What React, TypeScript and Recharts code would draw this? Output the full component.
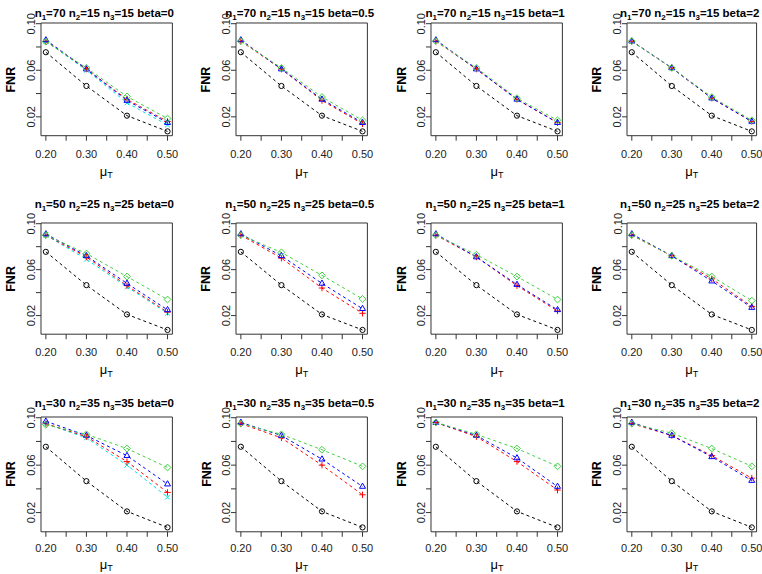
import React from 'react';
import { LineChart, Line, XAxis, YAxis, ReferenceArea } from 'recharts';

// ---------- data ----------
const muT = [0.2, 0.3, 0.4, 0.5];
const xTicks = [0.2, 0.25, 0.3, 0.35, 0.4, 0.45, 0.5];
const yTicks = [0.02, 0.04, 0.06, 0.08, 0.1];
const betaLabels = ['0', '0.5', '1', '2'];
const n1Values = [70, 50, 30];
const n2Values = [15, 25, 35];
const n3Values = [15, 25, 35];

// reference method (black circles) - same in every panel
const fnrBlack = [0.0755, 0.0465, 0.021, 0.0075];

// row 1: n1=70 n2=15 n3=15 ; one list per beta
const fnrRed70 = [[0.085, 0.061, 0.035, 0.016], [0.085, 0.061, 0.034, 0.014], [0.085, 0.061, 0.035, 0.015], [0.085, 0.062, 0.036, 0.016]];
const fnrBlue70 = [[0.086, 0.061, 0.034, 0.015], [0.086, 0.061, 0.035, 0.015], [0.086, 0.061, 0.035, 0.015], [0.085, 0.062, 0.036, 0.016]];
const fnrGreen70 = [[0.0845, 0.062, 0.0375, 0.0185], [0.085, 0.062, 0.037, 0.017], [0.085, 0.062, 0.036, 0.017], [0.085, 0.062, 0.037, 0.017]];
const fnrCyan70 = [0.085, 0.060, 0.032, 0.013];

// row 2: n1=50 n2=25 n3=25
const fnrRed50 = [[0.090, 0.071, 0.046, 0.023], [0.090, 0.070, 0.044, 0.022], [0.090, 0.071, 0.046, 0.024], [0.090, 0.072, 0.052, 0.028]];
const fnrBlue50 = [[0.091, 0.072, 0.048, 0.025], [0.091, 0.072, 0.048, 0.026], [0.091, 0.071, 0.047, 0.025], [0.091, 0.072, 0.050, 0.027]];
const fnrGreen50 = [[0.090, 0.074, 0.054, 0.034], [0.090, 0.075, 0.055, 0.0345], [0.090, 0.073, 0.054, 0.034], [0.090, 0.072, 0.054, 0.033]];
const fnrCyan50 = [0.090, 0.069, 0.045, 0.022];

// row 3: n1=30 n2=35 n3=35
const fnrRed30 = [[0.095, 0.084, 0.063, 0.037], [0.095, 0.083, 0.060, 0.035], [0.096, 0.084, 0.063, 0.039], [0.095, 0.085, 0.068, 0.049]];
const fnrBlue30 = [[0.097, 0.085, 0.068, 0.044], [0.096, 0.085, 0.065, 0.042], [0.096, 0.085, 0.066, 0.042], [0.096, 0.085, 0.067, 0.047]];
const fnrGreen30 = [[0.094, 0.086, 0.074, 0.058], [0.095, 0.086, 0.073, 0.059], [0.096, 0.086, 0.074, 0.059], [0.095, 0.087, 0.074, 0.059]];
const fnrCyan30 = [0.095, 0.083, 0.060, 0.033];

const redRows = [fnrRed70, fnrRed50, fnrRed30];
const blueRows = [fnrBlue70, fnrBlue50, fnrBlue30];
const greenRows = [fnrGreen70, fnrGreen50, fnrGreen30];
const cyanRows = [fnrCyan70, fnrCyan50, fnrCyan30];

// ---------- layout ----------
const FONT = '"Liberation Sans", Arial, Helvetica, sans-serif';
const X_DOMAIN: [number, number] = [0.188, 0.512];
const Y_DOMAIN: [number, number] = [0.0038, 0.1006];
const colBoxLeft = [40.6, 236.0, 431.4, 626.9];
const colBoxW = [131.4, 131.4, 131.4, 129.6];
const rowBoxTop = [23.3, 223.3, 416.6];
const rowBoxBottom = [136.0, 334.5, 531.4];
const rowTitleY = [12.5, 203.3, 402.7];
const rowXTickGap = [10, 9.5, 7.6];
const rowMuBaseline = [175.5, 374, 568.5];

const COLORS = {
  black: '#000000',
  red: '#ff0000',
  green: '#3fd03f',
  blue: '#0000ff',
  cyan: '#00e0e0',
};

type Kind = 'circle' | 'plus' | 'triangle' | 'cross' | 'diamond';

const makeDot = (kind: Kind, color: string) => (props: any) => {
  const { cx, cy, index } = props;
  const k = `${kind}-${index}`;
  if (cx == null || cy == null) return <g key={k} />;
  const common = { fill: 'none', stroke: color, strokeWidth: 1 };
  switch (kind) {
    case 'circle':
      return <circle key={k} cx={cx} cy={cy} r={2.6} {...common} />;
    case 'plus':
      return <path key={k} d={`M${cx - 3.2},${cy}H${cx + 3.2}M${cx},${cy - 3.2}V${cy + 3.2}`} {...common} />;
    case 'triangle':
      return <path key={k} d={`M${cx},${cy - 3.4}L${cx + 3},${cy + 1.8}L${cx - 3},${cy + 1.8}Z`} {...common} />;
    case 'cross':
      return <path key={k} d={`M${cx - 2.4},${cy - 2.4}L${cx + 2.4},${cy + 2.4}M${cx - 2.4},${cy + 2.4}L${cx + 2.4},${cy - 2.4}`} {...common} />;
    case 'diamond':
    default:
      return <path key={k} d={`M${cx},${cy - 3.4}L${cx + 3.4},${cy}L${cx},${cy + 3.4}L${cx - 3.4},${cy}Z`} {...common} />;
  }
};

const YTick = (props: any) => {
  const { x, y, payload } = props;
  const v = payload.value;
  const show = Math.abs(v - 0.02) < 1e-6 || Math.abs(v - 0.06) < 1e-6 || Math.abs(v - 0.1) < 1e-6;
  if (!show) return <g />;
  const bx = x - 0.5;
  return (
    <text x={bx} y={y} transform={`rotate(-90, ${bx}, ${y})`} textAnchor="middle" fontSize={11} fill="#222" fontFamily={FONT}>
      {v.toFixed(2)}
    </text>
  );
};

const xTickFmt = (v: number) => {
  const h = Math.round(v * 100);
  return h % 10 === 0 ? (h / 100).toFixed(2) : '';
};

function Panel({ row, col }: { row: number; col: number }) {
  const top = rowBoxTop[row];
  const boxH = rowBoxBottom[row] - top;
  const left = colBoxLeft[col];
  const boxW = colBoxW[col];
  const MT = 25;
  const YW = 41;
  const XH = 50;
  const W = YW + boxW + 20;
  const H = boxH + MT + XH;
  const withCyan = col === 0;
  const data = muT.map((x, i) => ({
    x,
    black: fnrBlack[i],
    red: redRows[row][col][i],
    blue: blueRows[row][col][i],
    green: greenRows[row][col][i],
    cyan: withCyan ? cyanRows[row][i] : null,
  }));
  return (
    <div style={{ position: 'absolute', left: left - YW, top: top - MT, width: W, height: H }}>
      <LineChart width={W} height={H} data={data} margin={{ top: MT, right: W - YW - boxW, bottom: 0, left: 0 }}>
        <XAxis
          dataKey="x"
          type="number"
          domain={X_DOMAIN}
          allowDataOverflow
          ticks={xTicks}
          interval={0}
          tickFormatter={xTickFmt}
          axisLine={false}
          tickLine={{ stroke: '#333' }}
          tickSize={5}
          tickMargin={rowXTickGap[row]}
          height={XH}
          tick={{ fontSize: 11, fill: '#222', fontFamily: FONT }}
        />
        <YAxis
          type="number"
          domain={Y_DOMAIN}
          allowDataOverflow
          ticks={yTicks}
          interval={0}
          axisLine={false}
          tickLine={{ stroke: '#333' }}
          tickSize={5}
          tickMargin={0}
          width={YW}
          tick={<YTick />}
        />
        <ReferenceArea x1={X_DOMAIN[0]} x2={X_DOMAIN[1]} y1={Y_DOMAIN[0]} y2={Y_DOMAIN[1]} fill="none" fillOpacity={0} stroke="#333" strokeWidth={1} strokeOpacity={1} ifOverflow="visible" />
        {withCyan && (
          <Line dataKey="cyan" stroke={COLORS.cyan} strokeWidth={1} strokeDasharray="3 3" dot={makeDot('cross', COLORS.cyan)} activeDot={false} isAnimationActive={false} />
        )}
        <Line dataKey="red" stroke={COLORS.red} strokeWidth={1} strokeDasharray="3 3" dot={makeDot('plus', COLORS.red)} activeDot={false} isAnimationActive={false} />
        <Line dataKey="blue" stroke={COLORS.blue} strokeWidth={1} strokeDasharray="3 3" dot={makeDot('triangle', COLORS.blue)} activeDot={false} isAnimationActive={false} />
        <Line dataKey="green" stroke={COLORS.green} strokeWidth={1} strokeDasharray="3 3" dot={makeDot('diamond', COLORS.green)} activeDot={false} isAnimationActive={false} />
        <Line dataKey="black" stroke={COLORS.black} strokeWidth={1} strokeDasharray="3 3" dot={makeDot('circle', COLORS.black)} activeDot={false} isAnimationActive={false} />
      </LineChart>
    </div>
  );
}

function Labels() {
  const items: React.ReactNode[] = [];
  for (let r = 0; r < 3; r++) {
    for (let c = 0; c < 4; c++) {
      const left = colBoxLeft[c];
      const cx = left + colBoxW[c] / 2;
      const top = rowBoxTop[r];
      const bottom = rowBoxBottom[r];
      const ty = rowTitleY[r] + 4.2;
      items.push(
        <text key={`t${r}${c}`} x={cx - 2} y={ty} textAnchor="middle" fontSize={11.5} fontWeight="bold" fontFamily={FONT} fill="#000">
          <tspan>n</tspan>
          <tspan dy={3} fontSize={8}>1</tspan>
          <tspan dy={-3}>{`=${n1Values[r]} n`}</tspan>
          <tspan dy={3} fontSize={8}>2</tspan>
          <tspan dy={-3}>{`=${n2Values[r]} n`}</tspan>
          <tspan dy={3} fontSize={8}>3</tspan>
          <tspan dy={-3}>{`=${n3Values[r]} beta=${betaLabels[c]}`}</tspan>
        </text>
      );
      const fx = left - 30 + 4.5;
      const fy = (top + bottom) / 2;
      items.push(
        <text key={`f${r}${c}`} x={fx} y={fy} transform={`rotate(-90, ${fx}, ${fy})`} textAnchor="middle" fontSize={12.5} fontWeight="bold" fontFamily={FONT} fill="#000">
          FNR
        </text>
      );
      items.push(
        <text key={`m${r}${c}`} x={cx} y={rowMuBaseline[r]} textAnchor="middle" fontSize={13} fontFamily={FONT} fill="#000">
          μ<tspan dy={2.5} fontSize={9}>T</tspan>
        </text>
      );
    }
  }
  return (
    <svg width={762} height={574} style={{ position: 'absolute', left: 0, top: 0, pointerEvents: 'none' }}>
      {items}
    </svg>
  );
}

export default function App() {
  const panels: React.ReactNode[] = [];
  for (let r = 0; r < 3; r++) for (let c = 0; c < 4; c++) panels.push(<Panel key={`${r}-${c}`} row={r} col={c} />);
  return (
    <div style={{ position: 'absolute', left: 0, top: 0, width: 762, height: 574, background: '#fff', overflow: 'hidden' }}>
      {panels}
      <Labels />
    </div>
  );
}
